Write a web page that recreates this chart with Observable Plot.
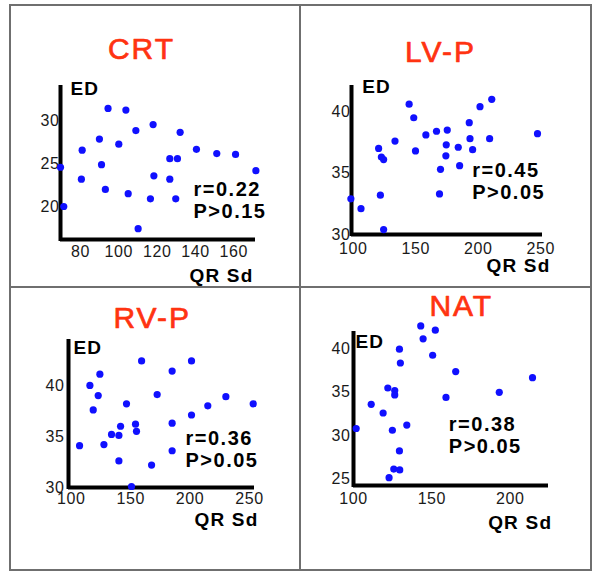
<!DOCTYPE html>
<html><head><meta charset="utf-8">
<script src="https://cdn.jsdelivr.net/npm/d3@7"></script>
<script src="https://cdn.jsdelivr.net/npm/@observablehq/plot@0.6"></script>
<style>
html,body{margin:0;padding:0;background:#fff;}
#fig{position:relative;width:601px;height:576px;background:#fff;overflow:hidden;}
.ln{position:absolute;background:#6f6f6f;}
.cell{position:absolute;}
.cell svg{overflow:visible;display:block;}
g[aria-description="title"] text{letter-spacing:2px;}
g[aria-description="stat"] text{letter-spacing:1.5px;}
g[aria-description="label"] text{letter-spacing:1.2px;}
g[aria-description="tick"] text{letter-spacing:0.6px;}
</style></head>
<body>
<div id="fig">
  <div class="ln" style="left:10px;top:4px;width:582px;height:2px"></div>
  <div class="ln" style="left:10px;top:569px;width:582px;height:2px"></div>
  <div class="ln" style="left:9px;top:4px;width:2px;height:567px"></div>
  <div class="ln" style="left:590px;top:4px;width:2px;height:567px"></div>
  <div class="ln" style="left:299px;top:4px;width:2px;height:567px"></div>
  <div class="ln" style="left:10px;top:286px;width:582px;height:2px"></div>
</div>
<script>
// ---- data ----
const titles = ["CRT", "LV-P", "RV-P", "NAT"];
const stats = ["r=0.22\nP>0.15", "r=0.45\nP>0.05", "r=0.36\nP>0.05", "r=0.38\nP>0.05"];
const xLabel = "QR Sd";
const yLabel = "ED";

const crtQRSd = [69.6, 71.3, 80.9, 80.5, 89.9, 91.0, 93.0, 94.4, 100.0, 103.7, 104.9, 108.9, 110.1, 116.5, 118.3, 117.9, 126.6, 126.6, 130.6, 132.0, 129.7, 140.5, 151.1, 160.9, 171.5];
const crtED   = [24.6, 20.0, 26.6, 23.2, 27.9, 24.9, 22.0, 31.5, 27.3, 31.3, 21.5, 28.9, 17.4, 20.9, 23.6, 29.6, 25.6, 23.2, 25.6, 28.7, 20.9, 26.7, 26.2, 26.1, 24.2];
const crtXTicks = [80, 100, 120, 140, 160];
const crtYTicks = [20, 25, 30];

const lvpQRSd = [98.1, 106.2, 120.3, 122.5, 124.3, 121.7, 124.3, 133.4, 144.7, 148.4, 149.8, 158.1, 166.6, 169.8, 169.0, 175.2, 174.4, 174.1, 184.0, 185.1, 192.8, 193.4, 195.5, 201.4, 209.1, 210.8, 247.4];
const lvpED   = [32.9, 32.1, 37.0, 36.3, 36.1, 33.2, 30.4, 37.6, 40.6, 39.5, 36.8, 38.1, 38.4, 35.3, 33.3, 38.5, 37.3, 36.4, 37.1, 35.6, 39.1, 37.8, 36.9, 40.4, 37.8, 41.0, 38.2];
const lvpXTicks = [100, 150, 200, 250];
const lvpYTicks = [30, 35, 40];

const rvpQRSd = [107.0, 115.7, 124.1, 122.7, 118.5, 127.5, 133.9, 140.1, 141.5, 140.1, 146.5, 150.7, 154.1, 154.9, 159.2, 167.6, 172.3, 184.9, 184.9, 184.9, 201.2, 201.2, 214.9, 230.1, 253.1];
const rvpED   = [34.1, 40.0, 41.1, 39.0, 37.6, 34.2, 35.2, 35.1, 36.0, 32.6, 38.2, 30.1, 36.2, 35.5, 42.4, 32.2, 39.1, 41.4, 36.3, 33.6, 42.4, 37.1, 38.0, 38.9, 38.2];
const rvpXTicks = [100, 150, 200, 250];
const rvpYTicks = [30, 35, 40];

const natQRSd = [101.7, 111.3, 118.9, 121.9, 126.3, 126.3, 124.8, 122.7, 125.7, 129.5, 129.3, 129.3, 129.9, 134.0, 142.9, 144.4, 152.2, 150.5, 159.0, 165.2, 193.0, 214.2];
const natED   = [30.8, 33.6, 32.6, 35.5, 35.2, 34.7, 30.6, 25.1, 26.1, 26.0, 28.2, 40.0, 38.4, 31.2, 42.7, 41.2, 42.2, 39.3, 34.4, 37.4, 35.0, 36.7];
const natXTicks = [100, 150, 200];
const natYTicks = [25, 30, 35, 40];

// ---- layout (positions / styles) ----
const layout = [
  {left: 10, top: 5, margin: [82, 45, 48, 50], xDomain: [69.6, 171.3], yDomain: [16.13, 33.95],
   title: [81, -29], ed: [10, 7], stat: [133, 130], qrs: [-2, 42], xTickDy: 17, yTickDx: -1},
  {left: 301, top: 5, margin: [82, 49, 53, 50], xDomain: [98.6, 251.4], yDomain: [30, 41.96],
   title: [89, -26], ed: [10.7, 5], stat: [120.7, 111], qrs: [8, 37.7], xTickDy: 19, yTickDx: -1},
  {left: 10, top: 288, margin: [53, 46, 83, 58], xDomain: [97.7, 254.2], yDomain: [30, 44.3],
   title: [83.7, -13.3], ed: [5, 12], stat: [117, 125.7], qrs: [4, 38.3], xTickDy: 16.6, yTickDx: -4},
  {left: 301, top: 288, margin: [45, 43, 85, 52], xDomain: [100, 224.4], yDomain: [24.19, 41.82],
   title: [107.8, -18], ed: [2, 14], stat: [95.3, 119], qrs: [3.7, 43.3], xTickDy: 18.3, yTickDx: -3}
];

const series = [
  [crtQRSd, crtED, crtXTicks, crtYTicks],
  [lvpQRSd, lvpED, lvpXTicks, lvpYTicks],
  [rvpQRSd, rvpED, rvpXTicks, rvpYTicks],
  [natQRSd, natED, natXTicks, natYTicks]
];

const FONT = "Liberation Sans, Arial, sans-serif";
const fig = document.getElementById("fig");

series.forEach(([qrs, ed, xt, yt], k) => {
  const L = layout[k];
  const pts = qrs.map((v, i) => ({qrs: v, ed: ed[i]}));
  const [mt, mr, mb, ml] = L.margin;
  const svg = Plot.plot({
    width: 290, height: 282,
    marginTop: mt, marginRight: mr, marginBottom: mb, marginLeft: ml,
    x: {domain: L.xDomain, axis: null},
    y: {domain: L.yDomain, axis: null},
    style: {fontFamily: FONT, background: "transparent", overflow: "visible"},
    marks: [
      Plot.ruleY([L.yDomain[0]], {stroke: "#000", strokeWidth: 4}),
      Plot.ruleX([L.xDomain[0]], {stroke: "#000", strokeWidth: 4, strokeLinecap: "square"}),
      Plot.text(xt, {x: d => d, frameAnchor: "bottom", dy: L.xTickDy, lineAnchor: "bottom",
        fontSize: 16, fill: "#1a1a1a", fontFamily: FONT, ariaDescription: "tick"}),
      Plot.text(yt, {y: d => d, frameAnchor: "left", dx: L.yTickDx, textAnchor: "end", lineAnchor: "middle",
        fontSize: 16, fill: "#1a1a1a", fontFamily: FONT, ariaDescription: "tick"}),
      Plot.dot(pts, {x: "qrs", y: "ed", r: 3.6, fill: "#1010ff", stroke: "none"}),
      Plot.text([titles[k]], {frameAnchor: "top-left", dx: L.title[0], dy: L.title[1], textAnchor: "middle",
        lineAnchor: "bottom", fontSize: 30, fill: "#ff3311", stroke: "#ff3311", strokeWidth: 0.7,
        fontFamily: FONT, ariaDescription: "title"}),
      Plot.text([yLabel], {frameAnchor: "top-left", dx: L.ed[0], dy: L.ed[1], textAnchor: "start",
        lineAnchor: "bottom", fontSize: 19, fontWeight: "bold", fill: "#000", fontFamily: FONT, ariaDescription: "label"}),
      Plot.text([xLabel], {frameAnchor: "bottom-right", dx: L.qrs[0], dy: L.qrs[1], textAnchor: "end",
        lineAnchor: "bottom", fontSize: 19, fontWeight: "bold", fill: "#000", fontFamily: FONT, ariaDescription: "label"}),
      Plot.text([stats[k]], {frameAnchor: "top-left", dx: L.stat[0], dy: L.stat[1], textAnchor: "start",
        lineAnchor: "bottom", lineHeight: 1.1, fontSize: 20, fontWeight: "bold", fill: "#000", fontFamily: FONT, ariaDescription: "stat"})
    ]
  });
  const cell = document.createElement("div");
  cell.className = "cell";
  cell.style.left = L.left + "px";
  cell.style.top = L.top + "px";
  cell.appendChild(svg);
  fig.appendChild(cell);
});
</script>
</body></html>
